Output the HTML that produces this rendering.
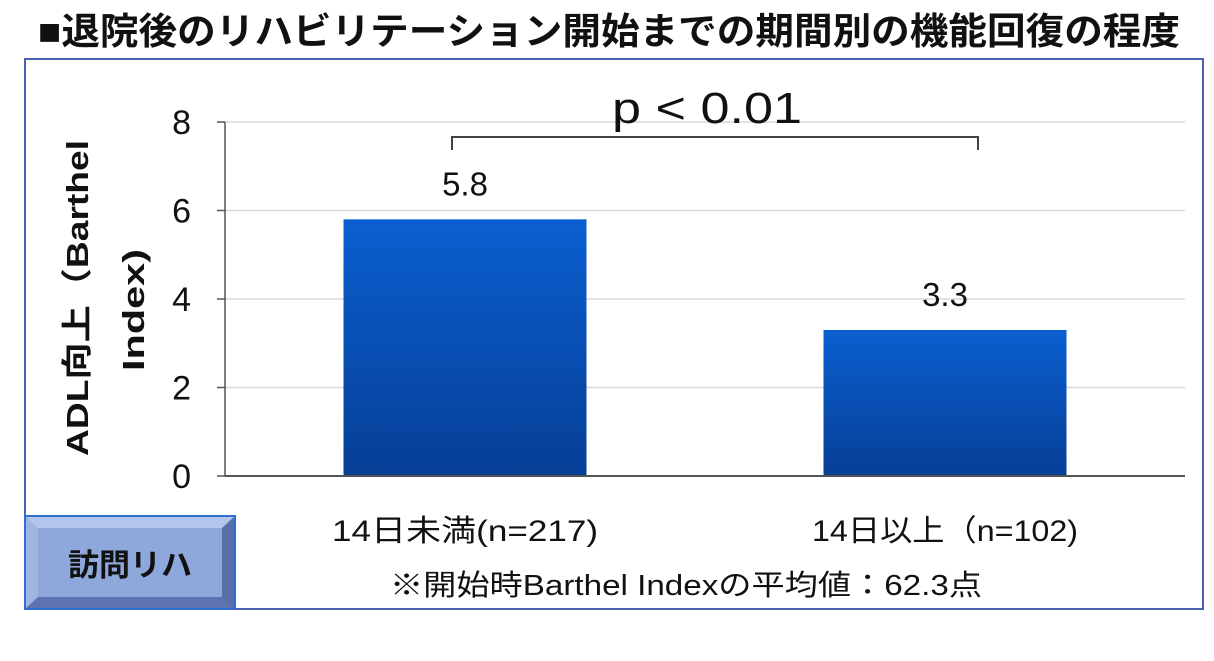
<!DOCTYPE html>
<html><head><meta charset="utf-8">
<style>
body{margin:0;background:#fff;width:1214px;height:656px;overflow:hidden;font-family:"Liberation Sans","Noto Sans CJK JP",sans-serif;}
</style></head><body>
<svg width="1214" height="656" viewBox="0 0 1214 656" xmlns="http://www.w3.org/2000/svg" font-family="Liberation Sans, Noto Sans CJK JP, sans-serif">
<defs>
<linearGradient id="bg" x1="0" y1="0" x2="0" y2="1">
<stop offset="0" stop-color="#0a5fd0"/><stop offset="1" stop-color="#063f96"/>
</linearGradient>
</defs>
<text x="38" y="44" font-size="37" font-weight="bold" fill="#111" textLength="1142" lengthAdjust="spacingAndGlyphs">■退院後のリハビリテーション開始までの期間別の機能回復の程度</text>
<rect x="25" y="59" width="1178" height="550" fill="none" stroke="#4a63b0" stroke-width="2"/>
<g id="grid"></g>
<g id="bars"></g>
<g id="axes"></g>
<text transform="translate(88,298) rotate(-90)" text-anchor="middle" font-size="31" font-weight="bold" fill="#111" textLength="316" lengthAdjust="spacingAndGlyphs">ADL向上（Barthel</text>
<text transform="translate(144,310) rotate(-90)" text-anchor="middle" font-size="31" font-weight="bold" fill="#111" textLength="122" lengthAdjust="spacingAndGlyphs">Index)</text>
<path d="M452,150 V137 H978 V150" fill="none" stroke="#444" stroke-width="2"/>
<text x="707" y="123" text-anchor="middle" font-size="44" fill="#111" textLength="190" lengthAdjust="spacingAndGlyphs">p &lt; 0.01</text>
<g>
<rect x="25" y="516" width="210" height="93" fill="#8aa3d8"/>
<polygon points="25,516 235,516 222,528 38,528" fill="#b3c5ea"/>
<polygon points="25,516 38,528 38,597 25,609" fill="#a0b4e0"/>
<polygon points="235,516 235,609 222,597 222,528" fill="#5a6ea8"/>
<polygon points="25,609 235,609 222,597 38,597" fill="#5d72b0"/>
<rect x="38" y="528" width="184" height="69" fill="#8ea8db"/>
<rect x="25" y="516" width="210" height="93" fill="none" stroke="#2f6fd0" stroke-width="2"/>
<text x="130" y="576" text-anchor="middle" font-size="31" font-weight="bold" fill="#111">訪問リハ</text>
</g>
<text x="686" y="595" text-anchor="middle" font-size="29" fill="#111" textLength="592" lengthAdjust="spacingAndGlyphs">※開始時Barthel Indexの平均値：62.3点</text>
<script>
const categories=["14日未満(n=217)","14日以上（n=102)"];
const values=[5.8,3.3];
const valueLabels=["5.8","3.3"];
const yTicks=[0,2,4,6,8];
const NS="http://www.w3.org/2000/svg";
const x0=225,x1=1185,yBase=476,yTop=122,yMax=8;
const y=v=>yBase-(v/yMax)*(yBase-yTop);
const band=(x1-x0)/categories.length;
function mk(t,a,p,txt){const e=document.createElementNS(NS,t);for(const k in a)e.setAttribute(k,a[k]);if(txt!==undefined)e.textContent=txt;p.appendChild(e);return e;}
const grid=document.getElementById('grid'),bars=document.getElementById('bars'),axes=document.getElementById('axes');
yTicks.forEach(t=>{
 if(t>0){const g=mk('line',{x1:x0,x2:x1,y1:y(t),y2:y(t),stroke:'#d9d9d9','stroke-width':1.5},grid);
 
 }
 const tk=mk('line',{x1:x0-8,x2:x0,y1:y(t),y2:y(t),stroke:'#555','stroke-width':1.5},axes);
 
 
 const lb=mk('text',{x:x0-34,y:y(t)+12,'text-anchor':'end','font-size':34,fill:'#111'},axes,String(t));
 
 
});
mk('line',{x1:x0,x2:x0,y1:yTop,y2:yBase,stroke:'#555','stroke-width':1.5},axes);
mk('line',{x1:x0,x2:x1,y1:yBase,y2:yBase,stroke:'#555','stroke-width':2},axes);
const bw=243;
categories.forEach((c,i)=>{
 const cx=x0+band*(i+0.5);
 const r=mk('rect',{x:cx-bw/2,y:y(values[i]),width:bw,height:yBase-y(values[i]),fill:'url(#bg)'},bars);
 
 
 const vl=mk('text',{x:cx,y:y(values[i])-24,'text-anchor':'middle','font-size':33,fill:'#111'},bars,valueLabels[i]);
 
 
 const cl=mk('text',{x:cx,y:541,'text-anchor':'middle','font-size':30,fill:'#111',textLength:266,lengthAdjust:'spacingAndGlyphs'},axes,c);
 
 
});
</script>
</svg>
</body></html>
